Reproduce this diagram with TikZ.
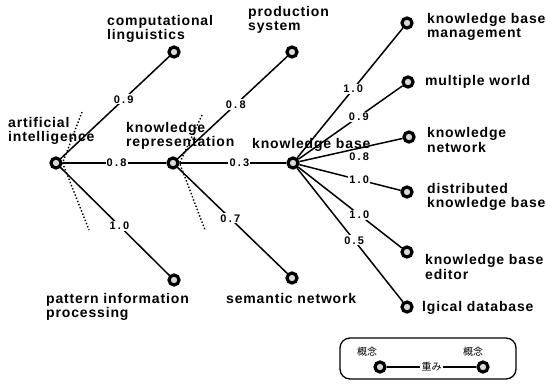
\documentclass[tikz,border=0pt]{standalone}
\usepackage{fontspec}
\newfontfamily\lblfont{Liberation Sans Bold}[LetterSpace=6]
\newfontfamily\wtfont{Liberation Sans Bold}[LetterSpace=20]
\newfontfamily\jpfont{Noto Sans CJK JP}
\usetikzlibrary{positioning}

\begin{document}
\begin{tikzpicture}[x=1pt, y=-1pt,
    concept/.style={circle, draw=black, line width=3.2pt, fill=gray!30,
                    minimum size=10pt, inner sep=0pt},
    term/.style={align=left, anchor=west, inner sep=0pt,
                 font=\lblfont\fontsize{14}{14.5}\selectfont},
    wt/.style={fill=white, inner sep=1.2pt,
               font=\wtfont\fontsize{11}{12}\selectfont},
    link/.style={line width=1.5pt},
    cut/.style={dotted, line width=1.4pt}
  ]
  \useasboundingbox (0,0) rectangle (546,391);
  %% Concept names
  \node[term] (tcl)  at (107,29)  {computational\\linguistics};
  \node[term] (tps)  at (248,20)  {production\\system};
  \node[term] (tai)  at (8,131)   {artificial\\intelligence};
  \node[term] (tkr)  at (126,136) {knowledge\\representation};
  \node[term] (tkb)  at (252,145) {knowledge base};
  \node[term] (tkbm) at (427,27)  {knowledge base\\management};
  \node[term] (tmw)  at (425,82)  {multiple world};
  \node[term] (tkn)  at (427,140) {knowledge\\network};
  \node[term] (tdkb) at (427,197) {distributed\\knowledge base};
  \node[term] (tkbe) at (425,267) {knowledge base\\editor};
  \node[term] (tld)  at (422,308) {lgical database};
  \node[term] (tpip) at (46,307)  {pattern information\\processing};
  \node[term] (tsn)  at (226,298) {semantic network};
  %% Concepts
  \node[concept] (ai)  at (56,163)  {};
  \node[concept] (kr)  at (173,163) {};
  \node[concept] (kb)  at (293,163) {};
  \node[concept] (cl)  at (174,52)  {};
  \node[concept] (ps)  at (292,52)  {};
  \node[concept] (pip) at (174,280) {};
  \node[concept] (sn)  at (292,278) {};
  \node[concept] (kbm) at (407,23)  {};
  \node[concept] (mw)  at (408,82)  {};
  \node[concept] (kn)  at (409,137) {};
  \node[concept] (dkb) at (407,192) {};
  \node[concept] (kbe) at (407,252) {};
  \node[concept] (ld)  at (407,307) {};
  %% Dotted cuts
  \coordinate (aiu) at (82,112);
  \coordinate (aid) at (89,230);
  \coordinate (kru) at (202,115);
  \coordinate (krd) at (205,230);
  \draw[cut] (aiu) -- (ai.east) -- (aid);
  \draw[cut] (kru) -- (kr.east) -- (krd);
  %% Weighted links
  \draw[link] (ai) -- node[wt, pos=.58] {0.9} (cl);
  \draw[link] (ai) -- node[wt, pos=.52] {0.8} (kr);
  \draw[link] (ai) -- node[wt, pos=.54] {1.0} (pip);
  \draw[link] (kr) -- node[wt, pos=.53] {0.8} (ps);
  \draw[link] (kr) -- node[wt, pos=.56] {0.3} (kb);
  \draw[link] (kr) -- node[wt, pos=.48] {0.7} (sn);
  \draw[link] (kb) -- node[wt, pos=.53] {1.0} (kbm);
  \draw[link] (kb) -- node[wt, pos=.58] {0.9} (mw);
  \draw[link] (kb) -- node[wt, pos=.58, fill=none, below=3pt] {0.8} (kn);
  \draw[link] (kb) -- node[wt, pos=.59] {1.0} (dkb);
  \draw[link] (kb) -- node[wt, pos=.59] {1.0} (kbe);
  \draw[link] (kb) -- node[wt, pos=.54] {0.5} (ld);
  %% Legend
  \node[draw, rounded corners=10pt, line width=1.3pt,
        minimum width=176pt, minimum height=41pt] (legend) at (428,358.5) {};
  \node[concept] (la) at (380,367) {};
  \node[concept] (lb) at (483,367) {};
  \node[font=\jpfont\fontsize{10}{11}\selectfont] (lta) at (367,352) {概念};
  \node[font=\jpfont\fontsize{10}{11}\selectfont] (ltb) at (473,352) {概念};
  \draw[link] (la) -- node[wt, font=\jpfont\fontsize{10}{11}\selectfont] {重み} (lb);
\end{tikzpicture}
\end{document}
